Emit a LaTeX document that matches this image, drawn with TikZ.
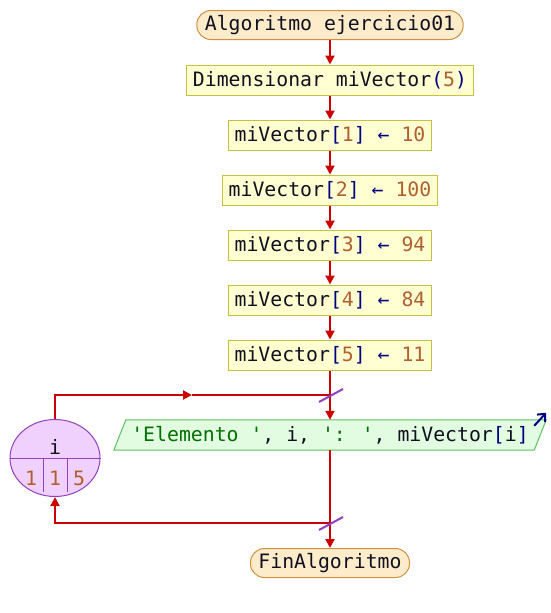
\documentclass[tikz,border=0pt]{standalone}
\usepackage{fontspec}
\newfontfamily\codefont{DejaVu Sans Mono}
\usetikzlibrary{arrows.meta, positioning, shapes.geometric}

\definecolor{flowred}{HTML}{CC0000}
\definecolor{termfill}{HTML}{FDEBC9}
\definecolor{termline}{HTML}{D09040}
\definecolor{procfill}{HTML}{FFFFD2}
\definecolor{procline}{HTML}{C8C040}
\definecolor{outfill}{HTML}{E2FCE2}
\definecolor{outline}{HTML}{60C060}
\definecolor{loopfill}{HTML}{F0D0FC}
\definecolor{loopline}{HTML}{9040C0}
\definecolor{codenavy}{HTML}{000080}
\definecolor{codenum}{HTML}{B06030}
\definecolor{codestr}{HTML}{007000}
\definecolor{codetxt}{HTML}{101020}

\newcommand{\cnum}[1]{\textcolor{codenum}{#1}}
\newcommand{\cop}[1]{\textcolor{codenavy}{#1}}
\newcommand{\cstr}[1]{\textcolor{codestr}{#1}}

\begin{document}
\begin{tikzpicture}[x=1pt, y=-1pt,
  every node/.style={font=\codefont\fontsize{19.8}{22}\selectfont, text=codetxt},
  term/.style={rectangle, draw=termline, fill=termfill, rounded corners=14pt,
               minimum height=29pt, inner xsep=8pt, inner ysep=0pt, line width=1pt},
  proc/.style={rectangle, draw=procline, fill=procfill, minimum height=30pt,
               inner xsep=6.5pt, inner ysep=0pt, line width=1pt},
  outbox/.style={rectangle, minimum width=420pt, minimum height=30pt, inner sep=0pt},
  loopnode/.style={ellipse, draw=loopline, fill=loopfill, minimum width=90pt,
                   minimum height=77pt, inner sep=0pt, line width=1pt},
  flow/.style={draw=flowred, line width=2pt, -{Triangle[length=9pt, width=9pt]}},
  line/.style={draw=flowred, line width=2pt},
  slash/.style={draw=loopline, line width=2pt},
  wrt/.style={draw=codenavy, line width=2pt, -{Straight Barb[length=6pt, width=11pt]}}
]
\useasboundingbox (0,0) rectangle (550,613);

\node[term] (start) at (330,25) {Algoritmo ejercicio01};
\node[proc] (dim) at (330,80) {Dimensionar miVector\cop{(}\cnum{5}\cop{)}};
\node[proc] (a1) at (330,135) {miVector\cop{[}\cnum{1}\cop{]} \cop{←} \cnum{10}};
\node[proc] (a2) at (330,190) {miVector\cop{[}\cnum{2}\cop{]} \cop{←} \cnum{100}};
\node[proc] (a3) at (330,245) {miVector\cop{[}\cnum{3}\cop{]} \cop{←} \cnum{94}};
\node[proc] (a4) at (330,300) {miVector\cop{[}\cnum{4}\cop{]} \cop{←} \cnum{84}};
\node[proc] (a5) at (330,355) {miVector\cop{[}\cnum{5}\cop{]} \cop{←} \cnum{11}};
\node[outbox] (out) at (330,435) {};
\node[term] (fin) at (330,563) {FinAlgoritmo};

% output parallelogram
\draw[draw=outline, fill=outfill, line width=1pt]
  ([xshift=6pt]out.north west) -- ([xshift=6pt]out.north east)
  -- ([xshift=-6pt]out.south east) -- ([xshift=-6pt]out.south west) -- cycle;
\node (outtxt) at (out.center) {\cstr{'Elemento '}, i, \cstr{': '}, miVector\cop{[}i\cop{]}};

% loop counter
\node[loopnode] (loopc) at (55,458) {};
\node (lvar) at (55,447) {i};
\node (lini) at (31,478) {\cnum{1}};
\node (lend) at (55,478) {\cnum{1}};
\node (lstep) at (79,478) {\cnum{5}};
\draw[loopline, line width=1pt] (loopc.west) -- (loopc.east);
\draw[loopline, line width=1pt] ([xshift=-12pt]loopc.center) -- ++(0,34);
\draw[loopline, line width=1pt] ([xshift=12pt]loopc.center) -- ++(0,34);

\coordinate (s1) at (330,395);
\coordinate (s2) at (330,523);
\coordinate (tmid) at (192,395);

\draw[flow] (start) -- (dim);
\draw[flow] (dim) -- (a1);
\draw[flow] (a1) -- (a2);
\draw[flow] (a2) -- (a3);
\draw[flow] (a3) -- (a4);
\draw[flow] (a4) -- (a5);
\draw[flow] (a5) -- (out);
\draw[flow] (out) -- (fin);
\draw[flow] (loopc.north) |- (tmid);
\draw[line] (tmid) -- (s1);
\draw[flow] (s2) -| (loopc.south);

\draw[slash] ([shift={(-11,7)}]s1) -- ([shift={(13,-6)}]s1);
\draw[slash] ([shift={(-11,7)}]s2) -- ([shift={(13,-6)}]s2);
\draw[wrt] ([shift={(-6,6)}]out.north east) -- ([shift={(6,-7)}]out.north east);
\end{tikzpicture}
\end{document}
